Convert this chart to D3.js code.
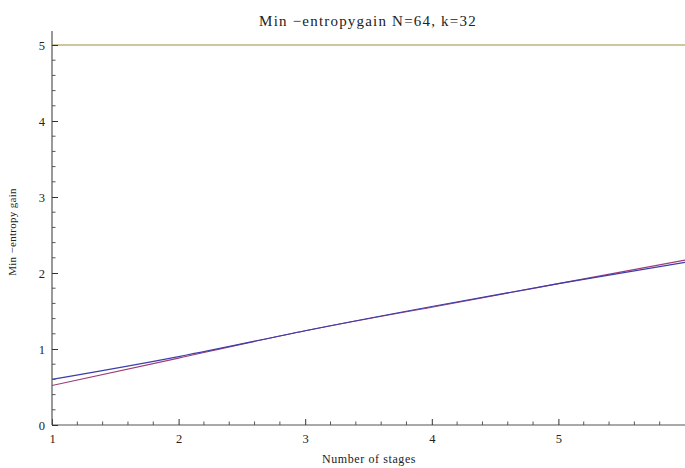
<!DOCTYPE html>
<html><head><meta charset="utf-8">
<script src="https://cdn.jsdelivr.net/npm/d3@7"></script>
<style>body{margin:0;background:#fff}svg{display:block}text{font-family:"Liberation Serif","Times New Roman",serif;fill:#222}</style>
</head><body><svg id="c" width="685" height="468"></svg>
<script>
const stages = [1, 2, 3, 4, 5, 6];
const seriesBlue = [0.60, 0.90, 1.24, 1.56, 1.86, 2.14];
const seriesPurple = [0.52, 0.88, 1.24, 1.55, 1.86, 2.17];
const bound = [5, 5, 5, 5, 5, 5];
const xTicks = [1, 2, 3, 4, 5];
const yTicks = [0, 1, 2, 3, 4, 5];
const title = "Min \u2212entropygain  N=64, k=32";
const xLabel = "Number of stages";
const yLabel = "Min \u2212entropy gain";

const svg = d3.select("#c");
const x = d3.scaleLinear().domain([1, 6]).range([52, 685]);
const y = d3.scaleLinear().domain([0, 5]).range([425, 45]);
const axisCol = "#555";

const line = d3.line().x((d,i)=>x(stages[i])).y(d=>y(d)).curve(d3.curveNatural);
svg.append("path").attr("d", line(bound)).attr("fill","none").attr("stroke","#c2b27e").attr("stroke-width",1.6);
svg.append("path").attr("d", line(seriesPurple)).attr("fill","none").attr("stroke","#9e3d78").attr("stroke-width",1.1);
svg.append("path").attr("d", line(seriesBlue)).attr("fill","none").attr("stroke","#3d3dab").attr("stroke-width",1.1);

const xAxis = d3.axisBottom(x).tickValues(xTicks).tickSize(-6).tickPadding(9).tickFormat(d3.format("d"));
const gx = svg.append("g").attr("transform","translate(0,425)").call(xAxis);
gx.select(".domain").attr("d","M52,0H685").attr("stroke",axisCol).attr("stroke-width",1.2);
gx.selectAll(".tick line").attr("stroke","#333");
gx.selectAll(".tick text").attr("font-size",12.5).attr("fill","#222").attr("font-family","Liberation Serif");
const xMinor = d3.range(1.2, 6, 0.2).filter(v=>Math.abs(v-Math.round(v))>0.01);
gx.selectAll(".minor").data(xMinor).enter().append("line")
  .attr("x1",d=>x(d)).attr("x2",d=>x(d)).attr("y1",0).attr("y2",-3.5).attr("stroke","#555");

const yAxis = d3.axisLeft(y).tickValues(yTicks).tickSize(-6).tickPadding(7).tickFormat(d3.format("d"));
const gy = svg.append("g").attr("transform","translate(52,0)").call(yAxis);
gy.select(".domain").attr("d","M0,425V31").attr("stroke",axisCol).attr("stroke-width",1.2);
gy.selectAll(".tick line").attr("stroke","#333");
gy.selectAll(".tick text").attr("font-size",12.5).attr("fill","#222").attr("font-family","Liberation Serif");
const yMinor = d3.range(0.2, 5.2, 0.2).filter(v=>Math.abs(v-Math.round(v))>0.01);
gy.selectAll(".minor").data(yMinor).enter().append("line")
  .attr("y1",d=>y(d)).attr("y2",d=>y(d)).attr("x1",0).attr("x2",3.5).attr("stroke","#555");

svg.append("text").attr("x",368).attr("y",26).attr("text-anchor","middle").attr("font-size",15).attr("letter-spacing","1.2px").text(title);
svg.append("text").attr("x",369).attr("y",463).attr("text-anchor","middle").attr("font-size",12).attr("letter-spacing","0.6px").text(xLabel);
svg.append("text").attr("transform","translate(16,232) rotate(-90)").attr("text-anchor","middle").attr("font-size",11).attr("letter-spacing","0.3px").text(yLabel);
</script></body></html>
